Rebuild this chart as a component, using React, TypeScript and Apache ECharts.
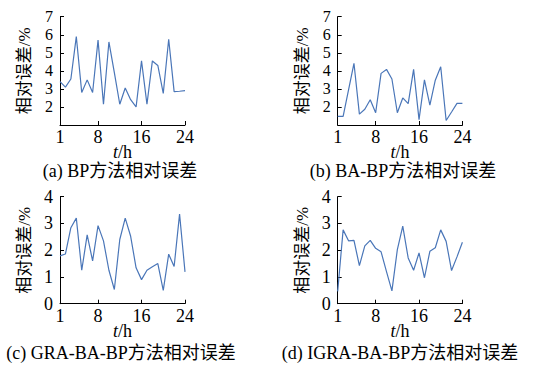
import React, { useEffect, useRef } from "react";
import * as echarts from "echarts";

const hours = Array.from({ length: 24 }, (_, i) => i + 1);
const xTicks = [1, 8, 16, 24];

const bpErr = [3.4, 3.1, 3.55, 5.9, 2.8, 3.5, 2.8, 5.7, 2.15, 5.6, 3.9, 2.15, 3.05, 2.4, 2.0, 4.55, 2.15, 4.55, 4.3, 2.75, 5.75, 2.85, 2.87, 2.9];
const baBpErr = [1.48, 1.48, 2.95, 4.42, 1.6, 1.87, 2.4, 1.68, 3.86, 4.08, 3.55, 1.68, 2.5, 2.18, 4.08, 1.3, 3.5, 2.1, 3.48, 4.23, 1.25, 1.72, 2.2, 2.2];
const graBaBpErr = [1.79, 1.86, 2.84, 3.2, 1.25, 2.57, 1.6, 2.92, 2.35, 1.25, 0.53, 2.4, 3.2, 2.52, 1.34, 0.9, 1.25, 1.38, 1.5, 0.5, 1.85, 1.39, 3.35, 1.19];
const igraBaBpErr = [0.46, 2.76, 2.35, 2.37, 1.42, 2.16, 2.37, 2.07, 1.94, 1.2, 0.48, 2.02, 2.9, 1.71, 1.25, 1.9, 0.97, 1.96, 2.09, 2.76, 2.33, 1.24, 1.75, 2.3];

const captions = ["(a) BP方法相对误差", "(b) BA-BP方法相对误差", "(c) GRA-BA-BP方法相对误差", "(d) IGRA-BA-BP方法相对误差"];
const yRanges = [[1, 7], [1, 7], [0, 4], [0, 4]];
const seriesData = [bpErr, baBpErr, graBaBpErr, igraBaBpErr];

const FONT = "'Liberation Serif', 'Noto Sans CJK SC', serif";

export default function App() {
  const ref = useRef<HTMLDivElement>(null);
  useEffect(() => {
    if (!ref.current) return;
    const chart = echarts.init(ref.current, undefined, { renderer: "svg" });
    const grids = [
      { left: 60, top: 16.7, width: 125, height: 108.3 },
      { left: 337.7, top: 16.7, width: 124.7, height: 108.3 },
      { left: 60, top: 196.7, width: 125, height: 107 },
      { left: 337.7, top: 196.7, width: 124.7, height: 107 },
    ];
    const axisLine = { show: true, lineStyle: { color: "#000", width: 1 } };
    const xAxis = grids.map((_, i) => ({
      type: "value" as const,
      gridIndex: i,
      min: 1,
      max: 24,
      axisLine,
      splitLine: { show: false },
      axisTick: { show: true, inside: true, length: 4, customValues: xTicks, lineStyle: { color: "#000" } },
      axisLabel: { customValues: xTicks, color: "#000", fontFamily: FONT, fontSize: 18, margin: 4, lineHeight: 16 },
      name: "{i|t}/h",
      nameLocation: "middle" as const,
      nameGap: 20,
      nameMoveOverlap: false,
      nameTextStyle: {
        color: "#000",
        fontFamily: FONT,
        fontSize: 18,
        lineHeight: 14,
        rich: { i: { fontStyle: "italic", fontFamily: FONT, fontSize: 18, color: "#000", lineHeight: 14 } },
      },
    }));
    const yAxis = grids.map((_, i) => ({
      type: "value" as const,
      gridIndex: i,
      min: yRanges[i][0],
      max: yRanges[i][1],
      interval: 1,
      axisLine,
      splitLine: { show: false },
      axisTick: { show: true, inside: true, length: 4, lineStyle: { color: "#000" } },
      axisLabel: {
        color: "#000",
        fontFamily: FONT,
        fontSize: i < 2 ? 16 : 18,
        lineHeight: 15,
        margin: 7,
        showMinLabel: i >= 2,
      },
      name: "相对误差/%",
      nameLocation: "middle" as const,
      nameGap: 27,
      nameMoveOverlap: false,
      nameTextStyle: { color: "#000", fontFamily: FONT, fontSize: 17 },
    }));
    const series = seriesData.map((d, i) => ({
      type: "line" as const,
      xAxisIndex: i,
      yAxisIndex: i,
      data: hours.map((h, k) => [h, d[k]]),
      showSymbol: false,
      symbol: "none",
      lineStyle: { color: "#4a76b8", width: 1.2 },
    }));
    const capPos = [
      [120, 171],
      [403, 171],
      [121, 353],
      [400, 353],
    ];
    const graphic = captions.map((c, i) => ({
      type: "text" as const,
      x: capPos[i][0],
      y: capPos[i][1],
      style: {
        text: c,
        fill: "#000",
        fontSize: 18,
        fontFamily: FONT,
        lineHeight: 18,
        align: "center",
        verticalAlign: "middle",
      },
    }));
    chart.setOption({
      animation: false,
      grid: grids,
      xAxis,
      yAxis,
      series,
      graphic,
    });
    return () => chart.dispose();
  }, []);
  return <div ref={ref} style={{ position: "fixed", left: 0, top: 0, width: 540, height: 365, background: "#fff" }} />;
}
